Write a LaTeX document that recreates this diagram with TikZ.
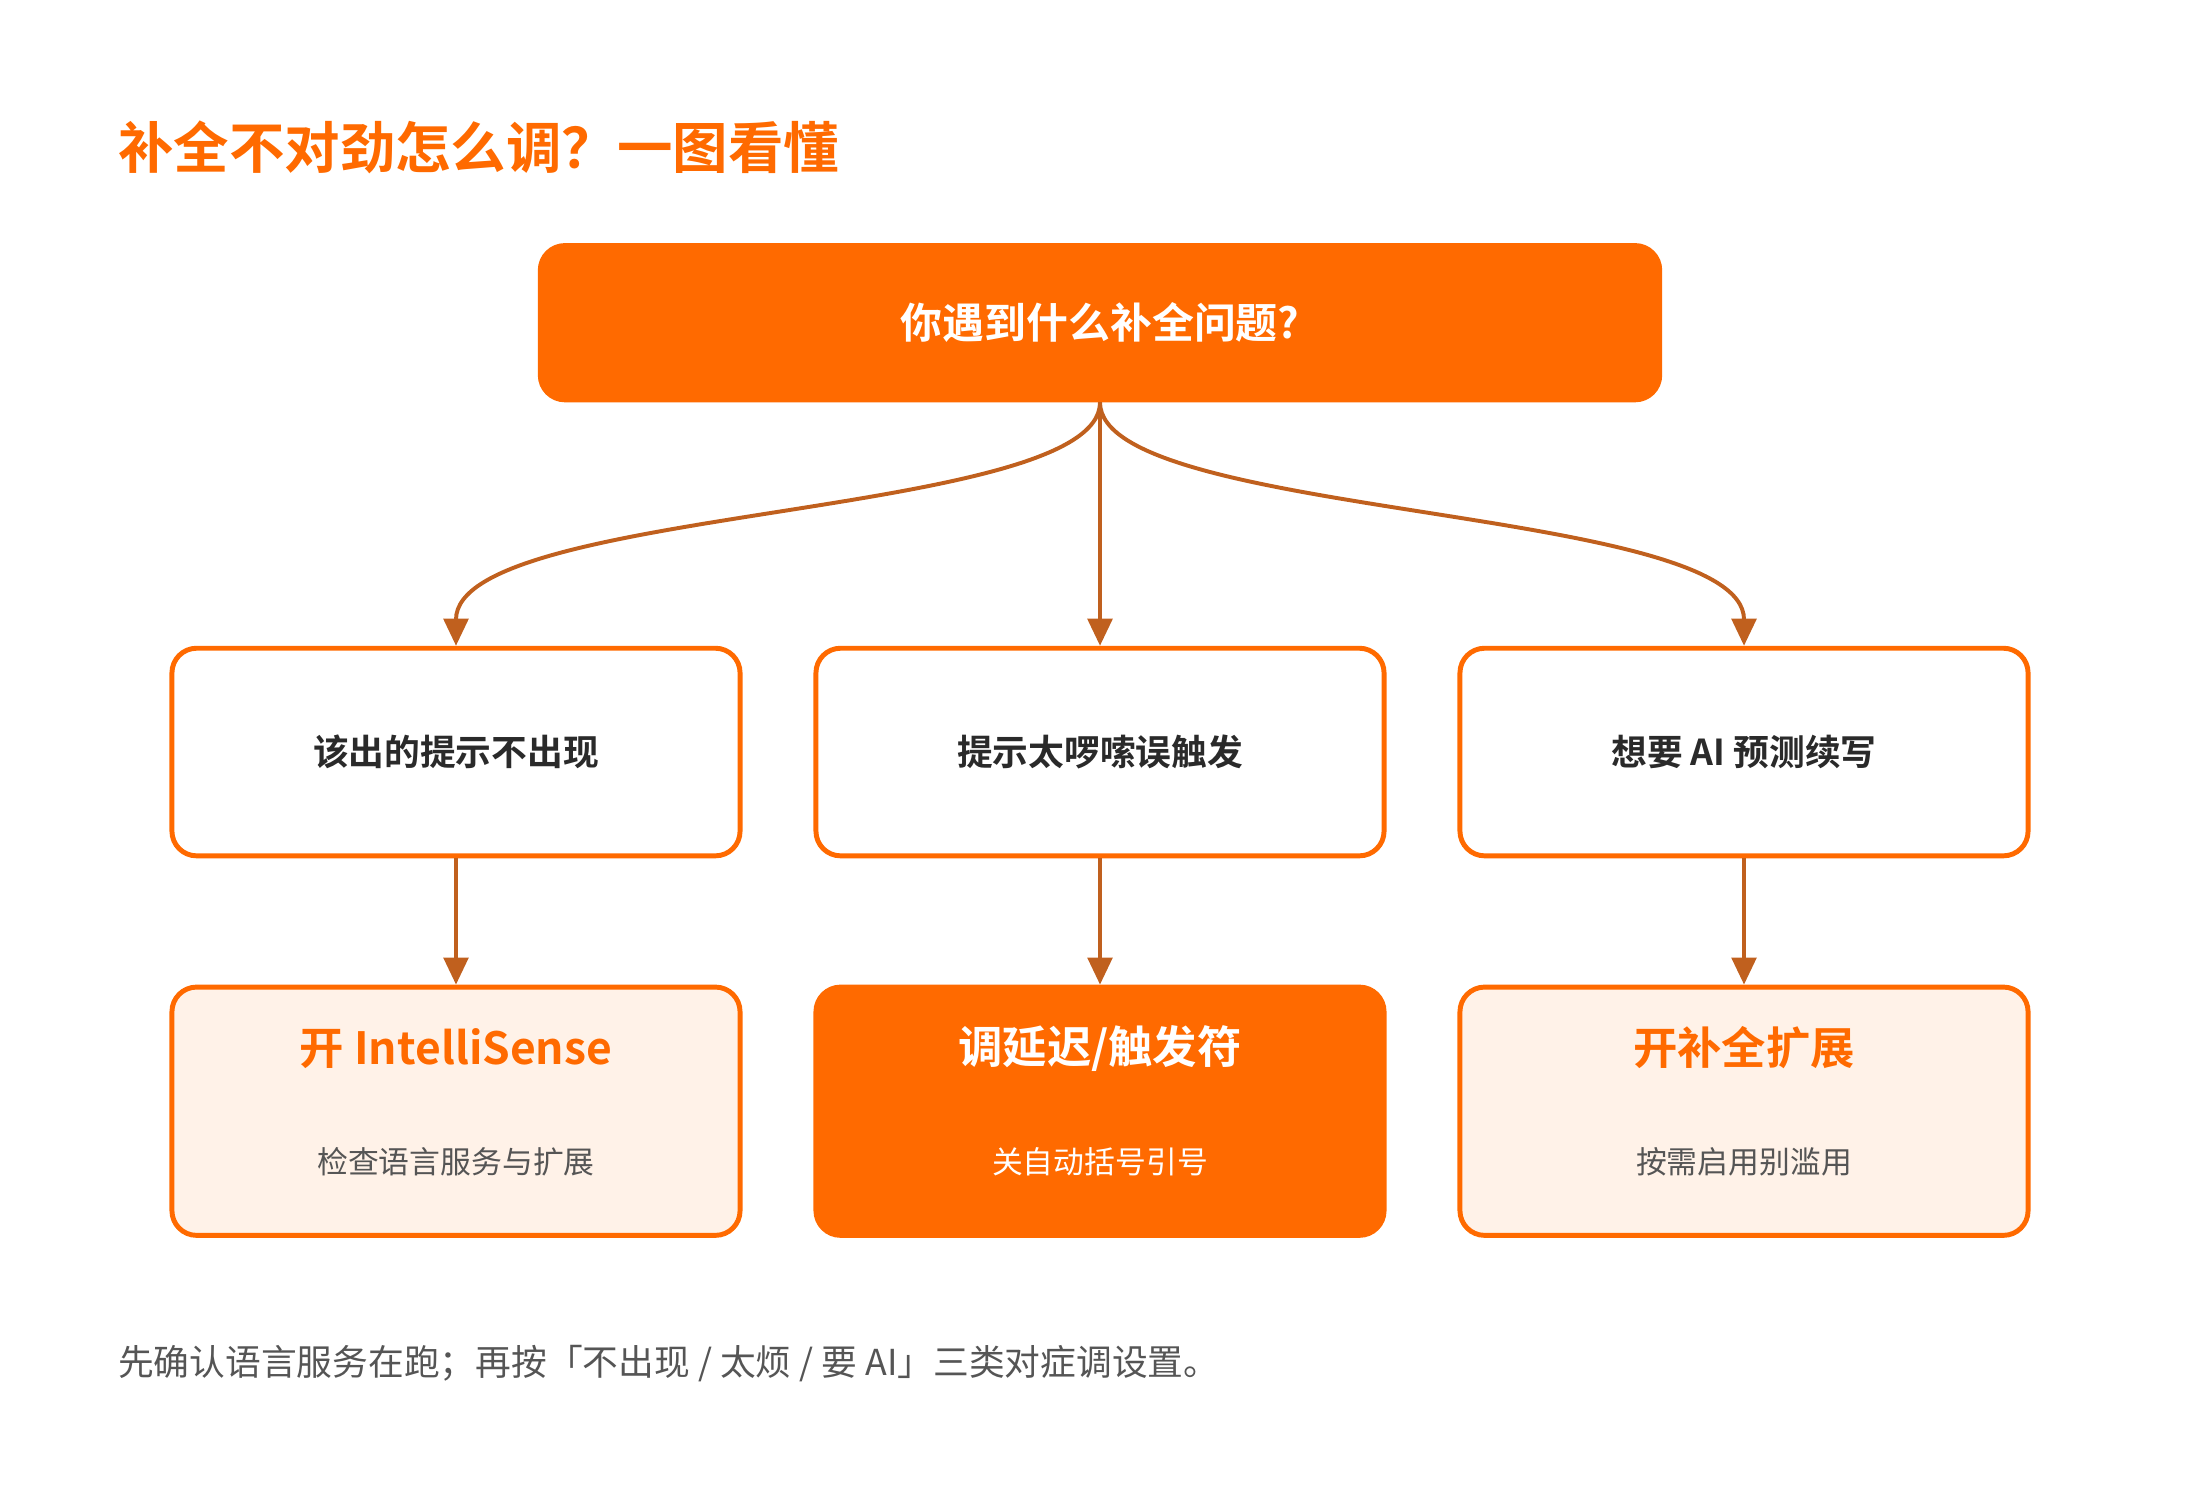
\documentclass[tikz,border=0pt]{standalone}
\usepackage{fontspec}
\setmainfont{Noto Sans CJK SC}
\newfontfamily\cjkbold{Noto Sans CJK SC Bold}
\usetikzlibrary{arrows.meta}
\definecolor{brandorange}{HTML}{FF6A00}
\definecolor{paleorange}{HTML}{FFF2E8}
\definecolor{arrowbrown}{HTML}{C0601E}
\definecolor{inkdark}{HTML}{2A2A2A}
\definecolor{inkgray}{HTML}{555555}
\begin{document}
\begin{tikzpicture}[x=0.02cm,y=-0.02cm,
                    flow/.style={draw=arrowbrown,line width=1.6pt,-{Triangle[length=11pt,width=10pt]}}]
    \tikzstyle{box}=[draw=brandorange,line width=2pt,rounded corners=10pt,minimum width=8.1cm,minimum height=2.96cm]
    \tikzstyle{question}=[box,fill=white,text=inkdark,font=\cjkbold\fontsize{14.5}{16}\selectfont]
    \tikzstyle{answer}=[box,fill=paleorange,minimum height=3.54cm]
    \tikzstyle{answerhot}=[answer,fill=brandorange]

    \useasboundingbox (0,0) rectangle (1568,1060);
    \node[anchor=west,text=brandorange,font=\cjkbold\fontsize{22.5}{26}\selectfont] (title) at (78,105) {补全不对劲怎么调？一图看懂};

    \node[box,fill=brandorange,minimum width=15.96cm,minimum height=2.2cm,text=white,
          font=\cjkbold\fontsize{17}{20}\selectfont] (root) at (784,230) {你遇到什么补全问题?};

    \node[question] (miss)  at (325,536) {该出的提示不出现};
    \node[question] (noisy) at (784,536) {提示太啰嗦误触发};
    \node[question] (ai)    at (1243,536) {想要 AI 预测续写};

    \node[answer]    (fixa) at (325,792) {};
    \node[answerhot] (fixb) at (784,792) {};
    \node[answer]    (fixc) at (1243,792) {};

    \foreach \n/\x/\head/\sub/\hc/\sc in {fixa/325/{开 IntelliSense}/{检查语言服务与扩展}/brandorange/inkgray,
                                           fixb/784/{调延迟/触发符}/{关自动括号引号}/white/white,
                                           fixc/1243/{开补全扩展}/{按需启用别滥用}/brandorange/inkgray}{
        \node[text=\hc,font=\cjkbold\fontsize{18}{20}\selectfont] (\n-head) at (\x,747) {\head};
        \node[text=\sc,font=\fontsize{12.5}{14}\selectfont] (\n-sub) at (\x,828) {\sub};
    }

    \draw[flow] (root.south) .. controls (784,370) and (325,360) .. (miss.north);
    \draw[flow] (root.south) -- (noisy.north);
    \draw[flow] (root.south) .. controls (784,370) and (1243,360) .. (ai.north);
    \draw[flow] (miss) -- (fixa);
    \draw[flow] (noisy) -- (fixb);
    \draw[flow] (ai) -- (fixc);

    \node[anchor=west,text=inkgray,font=\fontsize{14.5}{16}\selectfont] (note) at (78,972)
        {先确认语言服务在跑；再按「不出现 / 太烦 / 要 AI」三类对症调设置。};
\end{tikzpicture}
\end{document}
